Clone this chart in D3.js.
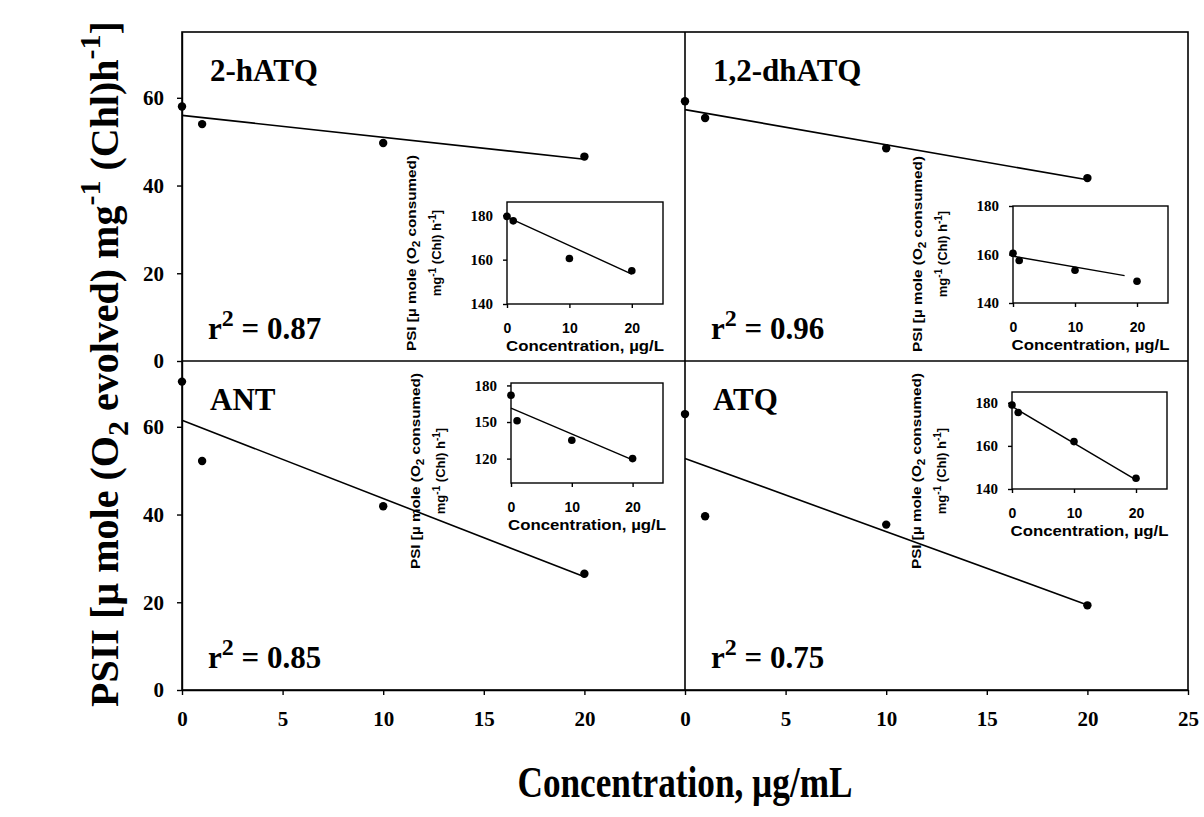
<!DOCTYPE html>
<html>
<head>
<meta charset="utf-8">
<script src="https://cdn.jsdelivr.net/npm/d3@7"></script>
<style>
    body { margin: 0; background: #fff; }
    text { fill: #000; }
</style>
</head>
<body>
<svg id="chart" width="1204" height="817"></svg>
<script>
// Data.
const panelNames = ['2-hATQ', '1,2-dhATQ', 'ANT', 'ATQ'];
const r2Labels = ['0.87', '0.96', '0.85', '0.75'];
const conc = [0, 1, 10, 20];
const psii = [
    [58, 54, 49.7, 46.6],
    [59.2, 55.4, 48.5, 41.7],
    [70.3, 52.2, 41.9, 26.5],
    [62.9, 39.6, 37.7, 19.3]
];
const fitConc = [0, 20];
const psiiFit = [
    [56, 46],
    [57.3, 41.3],
    [61.5, 25.8],
    [52.8, 19.4]
];
const xTicksLeft = [0, 5, 10, 15, 20];
const xTicksRight = [0, 5, 10, 15, 20, 25];
const yTicks = [0, 20, 40, 60];

// Inset (PSI) data.
const insetConc = [0, 1, 10, 20];
const psi = [
    [179.5, 177.5, 160.5, 155],
    [160.5, 157.5, 153.5, 149],
    [172, 151, 135, 120],
    [179, 175.5, 162, 145]
];
const psiFitConc = [[0, 20], [0, 18], [0, 20], [0, 20]];
const psiFit = [
    [179.2, 153.5],
    [159.3, 151.3],
    [161.4, 119],
    [178.3, 144.2]
];
const insetDomains = [[140, 186], [140, 180], [100, 182], [140, 185]];
const insetYTicks = [[140, 160, 180], [140, 160, 180], [120, 150, 180], [140, 160, 180]];
const insetXTicks = [0, 10, 20];

// Layout.
const FRAME = { left: 182, mid: 685, right: 1188, top: 32, midY: 361, bottom: 690 };
const INSETS = [
    { x: 507, y: 202, w: 156, h: 102, labelY: 253 },
    { x: 1013, y: 206, w: 155, h: 97, labelY: 254 },
    { x: 511, y: 383, w: 152, h: 100, labelY: 471 },
    { x: 1012, y: 392, w: 155, h: 97, labelY: 471 }
];
const SERIF = '"Liberation Serif", "Times New Roman", serif';
const SANS = '"Liberation Sans", Arial, sans-serif';

const svg = d3.select('#chart');

const cols = [[FRAME.left, FRAME.mid], [FRAME.mid, FRAME.right]];
const rows = [[FRAME.midY, FRAME.top], [FRAME.bottom, FRAME.midY]];

const styleAxis = (g, size, family) => {
    g.selectAll('path').attr('stroke', '#000').attr('stroke-width', 1.4);
    g.selectAll('line').attr('stroke', '#000').attr('stroke-width', 1.4);
    g.selectAll('text')
        .attr('font-family', family)
        .attr('font-weight', 'bold')
        .attr('font-size', size)
        .attr('fill', '#000');
};

// Main panels.
panelNames.forEach((name, i) => {
    const c = i % 2;
    const r = Math.floor(i / 2);
    const x = d3.scaleLinear().domain([0, 25]).range(cols[c]);
    const y = d3.scaleLinear().domain([0, 75]).range(rows[r]);
    const g = svg.append('g').attr('class', `panel panel-${i}`);

    // Fit line.
    g.append('line')
        .attr('x1', x(fitConc[0]))
        .attr('y1', y(psiiFit[i][0]))
        .attr('x2', x(fitConc[1]))
        .attr('y2', y(psiiFit[i][1]))
        .attr('stroke', '#000')
        .attr('stroke-width', 1.6);

    // Points.
    g.selectAll('circle.pt')
        .data(conc.map((d, k) => [d, psii[i][k]]))
        .join('circle')
        .attr('class', 'pt')
        .attr('cx', d => x(d[0]))
        .attr('cy', d => y(d[1]))
        .attr('r', 4.2)
        .attr('fill', '#000');

    // Labels.
    g.append('text')
        .attr('x', cols[c][0] + 28)
        .attr('y', rows[r][1] + 49)
        .attr('font-family', SERIF)
        .attr('font-weight', 'bold')
        .attr('font-size', 31)
        .text(name);

    const r2 = g.append('text')
        .attr('x', cols[c][0] + 26)
        .attr('y', rows[r][0] - 22)
        .attr('font-family', SERIF)
        .attr('font-weight', 'bold')
        .attr('font-size', 31);
    r2.append('tspan').text('r');
    r2.append('tspan').attr('dy', -13).attr('font-size', 24).text('2');
    r2.append('tspan').attr('dy', 13).text(' = ' + r2Labels[i]);

    // Axes.
    if (c === 0) {
        g.append('g')
            .attr('transform', `translate(${FRAME.left},0)`)
            .call(d3.axisLeft(y).tickValues(yTicks).tickSize(5).tickPadding(13).tickSizeOuter(0))
            .call(a => styleAxis(a, 21, SERIF));
    }
    if (r === 1) {
        g.append('g')
            .attr('transform', `translate(0,${FRAME.bottom})`)
            .call(d3.axisBottom(x).tickValues(c === 0 ? xTicksLeft : xTicksRight)
                .tickSize(5).tickPadding(16).tickSizeOuter(0))
            .call(a => styleAxis(a, 21, SERIF));
    }

    // Inset.
    const box = INSETS[i];
    const ix = d3.scaleLinear().domain([0, 25]).range([box.x, box.x + box.w]);
    const iy = d3.scaleLinear().domain(insetDomains[i]).range([box.y + box.h, box.y]);
    const ig = g.append('g').attr('class', 'inset');

    ig.append('rect')
        .attr('x', box.x)
        .attr('y', box.y)
        .attr('width', box.w)
        .attr('height', box.h)
        .attr('fill', '#fff')
        .attr('stroke', '#000')
        .attr('stroke-width', 1.4);

    ig.append('line')
        .attr('x1', ix(psiFitConc[i][0]))
        .attr('y1', iy(psiFit[i][0]))
        .attr('x2', ix(psiFitConc[i][1]))
        .attr('y2', iy(psiFit[i][1]))
        .attr('stroke', '#000')
        .attr('stroke-width', 1.4);

    ig.selectAll('circle.ipt')
        .data(insetConc.map((d, k) => [d, psi[i][k]]))
        .join('circle')
        .attr('class', 'ipt')
        .attr('cx', d => ix(d[0]))
        .attr('cy', d => iy(d[1]))
        .attr('r', 3.8)
        .attr('fill', '#000');

    ig.append('g')
        .attr('transform', `translate(${box.x},0)`)
        .call(d3.axisLeft(iy).tickValues(insetYTicks[i]).tickSize(4).tickPadding(10).tickSizeOuter(0))
        .call(a => styleAxis(a, 15, SERIF))
        .call(a => a.select('.domain').remove());

    ig.append('g')
        .attr('transform', `translate(0,${box.y + box.h})`)
        .call(d3.axisBottom(ix).tickValues(insetXTicks).tickSize(4).tickPadding(15).tickSizeOuter(0))
        .call(a => styleAxis(a, 14, SANS))
        .call(a => a.select('.domain').remove());

    ig.append('text')
        .attr('x', box.x + box.w / 2)
        .attr('y', box.y + box.h + 47)
        .attr('text-anchor', 'middle')
        .attr('font-family', SANS)
        .attr('font-weight', 'bold')
        .attr('font-size', 14)
        .attr('textLength', 158)
        .attr('lengthAdjust', 'spacingAndGlyphs')
        .text('Concentration, µg/L');

    const l1 = ig.append('text')
        .attr('transform', `translate(${box.x - 91},${box.labelY}) rotate(-90)`)
        .attr('text-anchor', 'middle')
        .attr('font-family', SANS)
        .attr('font-weight', 'bold')
        .attr('font-size', 13)
        .attr('textLength', 196)
        .attr('lengthAdjust', 'spacingAndGlyphs');
    l1.append('tspan').text('PSI [µ mole (O');
    l1.append('tspan').attr('dy', 4).attr('font-size', 10).text('2');
    l1.append('tspan').attr('dy', -4).text(' consumed)');

    const l2 = ig.append('text')
        .attr('transform', `translate(${box.x - 66},${box.labelY}) rotate(-90)`)
        .attr('text-anchor', 'middle')
        .attr('font-family', SANS)
        .attr('font-weight', 'bold')
        .attr('font-size', 13);
    l2.append('tspan').text('mg');
    l2.append('tspan').attr('dy', -5).attr('font-size', 10).text('-1');
    l2.append('tspan').attr('dy', 5).text(' (Chl) h');
    l2.append('tspan').attr('dy', -5).attr('font-size', 10).text('-1');
    l2.append('tspan').attr('dy', 5).text(']');
});

// Frame and dividers.
svg.append('rect')
    .attr('x', FRAME.left)
    .attr('y', FRAME.top)
    .attr('width', FRAME.right - FRAME.left)
    .attr('height', FRAME.bottom - FRAME.top)
    .attr('fill', 'none')
    .attr('stroke', '#000')
    .attr('stroke-width', 1.6);
svg.append('line')
    .attr('x1', FRAME.mid).attr('x2', FRAME.mid)
    .attr('y1', FRAME.top).attr('y2', FRAME.bottom)
    .attr('stroke', '#000').attr('stroke-width', 1.6);
svg.append('line')
    .attr('x1', FRAME.left).attr('x2', FRAME.right)
    .attr('y1', FRAME.midY).attr('y2', FRAME.midY)
    .attr('stroke', '#000').attr('stroke-width', 1.6);

// Axis titles.
const yTitle = svg.append('text')
    .attr('transform', `translate(118,${(FRAME.top + FRAME.bottom) / 2 + 3}) rotate(-90)`)
    .attr('text-anchor', 'middle')
    .attr('font-family', SERIF)
    .attr('font-weight', 'bold')
    .attr('font-size', 40);
yTitle.append('tspan').text('PSII [µ mole (O');
yTitle.append('tspan').attr('dy', 10).attr('font-size', 30).text('2');
yTitle.append('tspan').attr('dy', -10).text(' evolved) mg');
yTitle.append('tspan').attr('dy', -18).attr('font-size', 30).text('-1');
yTitle.append('tspan').attr('dy', 18).text(' (Chl)h');
yTitle.append('tspan').attr('dy', -18).attr('font-size', 30).text('-1');
yTitle.append('tspan').attr('dy', 18).text(']');

svg.append('text')
    .attr('x', (FRAME.left + FRAME.right) / 2)
    .attr('y', 797)
    .attr('text-anchor', 'middle')
    .attr('font-family', SERIF)
    .attr('font-weight', 'bold')
    .attr('font-size', 44)
    .attr('textLength', 335)
    .attr('lengthAdjust', 'spacingAndGlyphs')
    .text('Concentration, µg/mL');
</script>
</body>
</html>
